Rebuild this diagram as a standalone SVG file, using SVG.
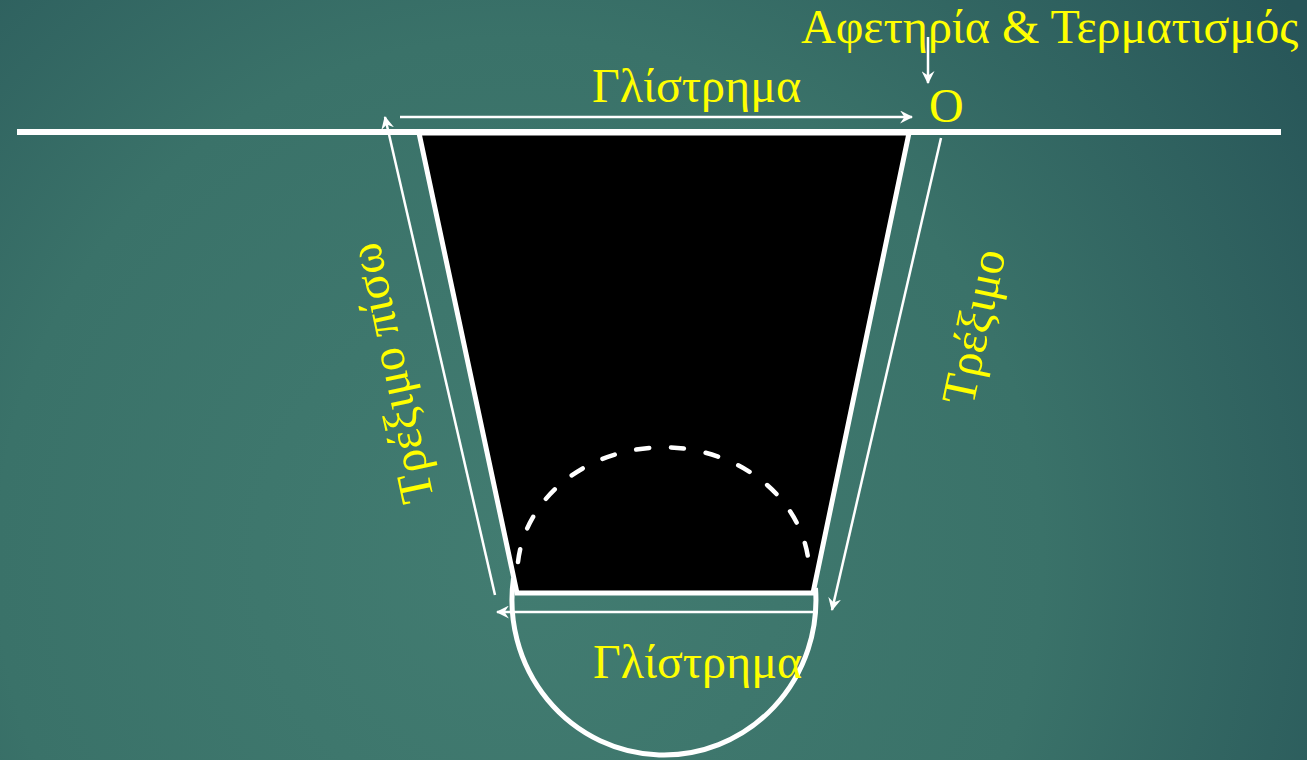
<svg xmlns="http://www.w3.org/2000/svg" width="1307" height="760" viewBox="0 0 1307 760">
<defs>
<radialGradient id="bg" cx="520" cy="560" r="950" gradientUnits="userSpaceOnUse">
<stop offset="0" stop-color="#427c71"/>
<stop offset="0.55" stop-color="#3a7269"/>
<stop offset="1" stop-color="#275558"/>
</radialGradient>
<marker id="ah" viewBox="0 0 12 12" refX="11" refY="6" markerWidth="13" markerHeight="13" markerUnits="userSpaceOnUse" orient="auto">
<path d="M0,0 L12,6 L0,12 L4,6 z" fill="#ffffff"/>
</marker>
<style>
.lbl{font-family:"Liberation Serif","DejaVu Serif",serif;fill:#ffff00;font-size:48px}
.arr{stroke:#ffffff;stroke-width:2.5;fill:none;marker-end:url(#ah)}
.thick{stroke:#ffffff;stroke-width:5;fill:none}
</style>
</defs>
<rect width="1307" height="760" fill="url(#bg)"/>
<g id="ground">
<line x1="17" y1="132" x2="1281" y2="132" stroke="#ffffff" stroke-width="6"/>
</g>
<g id="pit">
<path d="M419,133 L909,133 L813,593 L517,593 Z" fill="#000000" stroke="#ffffff" stroke-width="5" stroke-linejoin="miter"/>
</g>
<g id="semicircle">
<path d="M513.5,578 A152,155 0 1 0 815.5,588" class="thick"/>
</g>
<g id="dashed-arc">
<path d="M518,562 A146,127 0 0 1 809,566" stroke="#ffffff" stroke-width="4.5" fill="none" stroke-linecap="round" stroke-dasharray="13,22"/>
</g>
<g id="connectors">
<line x1="400" y1="117" x2="912" y2="117" class="arr"/>
<line x1="928" y1="37" x2="928" y2="83" class="arr"/>
<line x1="941" y1="138" x2="832" y2="610" class="arr"/>
<line x1="813" y1="612" x2="497" y2="612" class="arr"/>
<line x1="495" y1="595" x2="385" y2="117" class="arr"/>
</g>
<g id="label-start">
<text class="lbl" x="801" y="43">Αφετηρία &amp; Τερματισμός</text>
</g>
<g id="label-o">
<text class="lbl" x="929" y="122" font-size="42">O</text>
</g>
<g id="label-slide-top">
<text class="lbl" x="592" y="102">Γλίστρημα</text>
</g>
<g id="label-slide-bottom">
<text class="lbl" x="593" y="678">Γλίστρημα</text>
</g>
<g id="label-run">
<text class="lbl" transform="translate(973,407) rotate(-78)">Τρέξιμο</text>
</g>
<g id="label-run-back">
<text class="lbl" transform="translate(434,499) rotate(-102)">Τρέξιμο πίσω</text>
</g>
</svg>
